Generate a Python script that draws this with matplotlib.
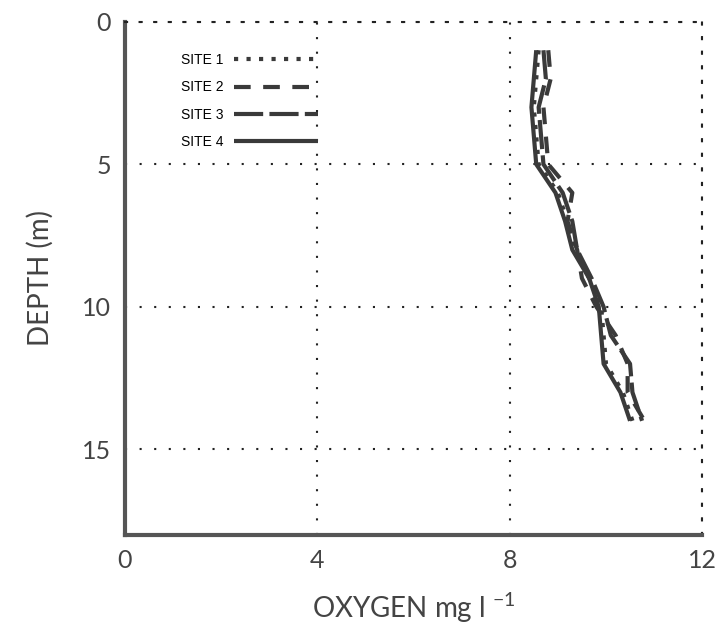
import matplotlib
matplotlib.use("Agg")
import matplotlib.pyplot as plt

depth = [1, 2, 3, 4, 5, 6, 7, 8, 9, 10, 11, 12, 13, 14]
site1 = [8.6, 8.55, 8.5, 8.55, 8.6, 9.0, 9.2, 9.35, 9.65, 9.9, 9.95, 10.0, 10.35, 10.55]
site2 = [8.8, 8.85, 8.7, 8.75, 8.8, 9.3, 9.2, 9.4, 9.5, 9.8, 10.2, 10.45, 10.45, 10.8]
site3 = [8.7, 8.75, 8.6, 8.65, 8.7, 9.1, 9.3, 9.4, 9.7, 9.95, 10.1, 10.5, 10.55, 10.75]
site4 = [8.55, 8.5, 8.45, 8.5, 8.55, 8.95, 9.15, 9.3, 9.65, 9.85, 9.9, 9.95, 10.3, 10.5]
labels = ["SITE 1", "SITE 2", "SITE 3", "SITE 4"]
xticks = [0, 4, 8, 12]
yticks = [0, 5, 10, 15]

plt.rcParams['font.family'] = ['Lato', 'DejaVu Sans']
plt.rcParams['mathtext.fontset'] = 'custom'
plt.rcParams['mathtext.rm'] = 'Lato'
plt.rcParams['mathtext.default'] = 'rm'

fig = plt.figure(figsize=(7.18, 6.39), dpi=100)
ax = fig.add_axes([0.174, 0.163, 0.804, 0.803])

col = "#3a3a3a"
styles = [(0, (1, 2)), (0, (4, 3)), (0, (7, 1.5)), "-"]
for s, lab, ls in zip([site1, site2, site3, site4], labels, styles):
    ax.plot(s, depth, color=col, lw=3, ls=ls, label=lab, solid_capstyle="butt")

ax.set_xlim(0, 12)
ax.set_ylim(18, 0)
ax.set_xticks(xticks)
ax.set_yticks(yticks)
ax.tick_params(length=0, labelsize=18, pad=10, colors="#444444")
ax.grid(True, ls=(0, (1, 6)), color="#222222", lw=1.5)
for sp in ["top", "right"]:
    ax.spines[sp].set_linestyle((0, (1, 6)))
    ax.spines[sp].set_linewidth(1.5)
    ax.spines[sp].set_color("#222222")
for sp in ["left", "bottom"]:
    ax.spines[sp].set_linewidth(3)
    ax.spines[sp].set_color("#555555")

ax.set_xlabel(r"OXYGEN mg l $^{-1}$", fontsize=20, color="#444444", labelpad=14)
ax.set_ylabel("DEPTH (m)", fontsize=20, color="#444444", labelpad=20)

leg = ax.legend(loc="upper left", bbox_to_anchor=(0.075, 0.963), frameon=False,
                markerfirst=False, handlelength=6.0, labelspacing=0.95,
                handletextpad=0.8, prop={'family': 'Liberation Sans', 'size': 10})

fig.savefig("out.png", dpi=100)
